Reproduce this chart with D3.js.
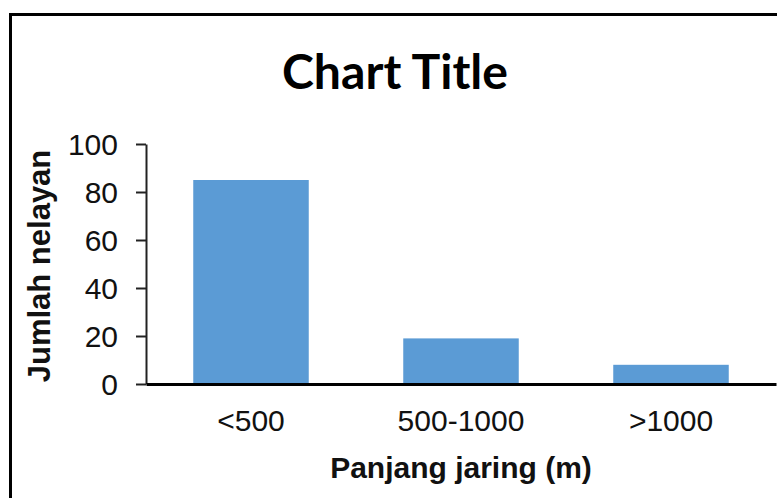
<!DOCTYPE html>
<html>
<head>
<meta charset="utf-8">
<script src="https://cdn.jsdelivr.net/npm/d3@7"></script>
<style>
  html, body { margin: 0; padding: 0; background: #fff; }
  svg { display: block; }
</style>
</head>
<body>
<svg id="chart" width="777" height="498"></svg>
<script>
// Fishers grouped by net length
const categories = ["<500", "500-1000", ">1000"];
const fishers = [85, 19, 8];
const yTicks = [0, 20, 40, 60, 80, 100];

const titleText = "Chart Title";
const xTitle = "Panjang jaring (m)";
const yTitle = "Jumlah nelayan";

const svg = d3.select("#chart");
const W = 777, H = 498;
const plot = { left: 146, right: 776, top: 144, bottom: 384 };

svg.append("rect").attr("width", W).attr("height", H).attr("fill", "#fff");

// chart frame
svg.append("rect")
  .attr("x", 10.5).attr("y", 14.5)
  .attr("width", 800).attr("height", 520)
  .attr("fill", "none").attr("stroke", "#000").attr("stroke-width", 3);

const x = d3.scaleBand()
  .domain(categories)
  .range([plot.left, plot.right])
  .paddingInner(0.45)
  .paddingOuter(0.225);

const y = d3.scaleLinear().domain([0, 100]).range([plot.bottom, plot.top]);

// bars
svg.append("g").selectAll("rect")
  .data(categories.map((c, i) => ({ c, v: fishers[i] })))
  .join("rect")
  .attr("x", d => x(d.c))
  .attr("y", d => y(d.v))
  .attr("width", x.bandwidth())
  .attr("height", d => y(0) - y(d.v))
  .attr("fill", "#5b9bd5");

// y axis
const yAxis = svg.append("g")
  .attr("transform", `translate(${plot.left},0)`)
  .call(d3.axisLeft(y).tickValues(yTicks).tickSize(10).tickPadding(18).tickSizeOuter(0));
yAxis.select(".domain").attr("stroke", "#222").attr("stroke-width", 2);
yAxis.selectAll(".tick line").attr("stroke", "#222").attr("stroke-width", 2);
yAxis.selectAll(".tick text")
  .attr("font-family", "'Liberation Sans', Arial, sans-serif")
  .attr("font-size", 30).attr("fill", "#111").attr("dy", "0.36em");

// x axis
const xAxis = svg.append("g")
  .attr("transform", `translate(0,${plot.bottom})`)
  .call(d3.axisBottom(x).tickSize(0).tickPadding(26));
xAxis.select(".domain").attr("stroke", "#000").attr("stroke-width", 3);
xAxis.selectAll(".tick text")
  .attr("font-family", "'Liberation Sans', Arial, sans-serif")
  .attr("font-size", 30).attr("fill", "#111");

// titles
svg.append("text")
  .attr("x", 395).attr("y", 89)
  .attr("text-anchor", "middle")
  .attr("font-family", "Lato, 'Open Sans', sans-serif")
  .attr("font-weight", "bold")
  .attr("font-size", 47)
  .attr("textLength", 226).attr("lengthAdjust", "spacingAndGlyphs")
  .attr("fill", "#000")
  .text(titleText);

svg.append("text")
  .attr("x", (plot.left + plot.right) / 2).attr("y", 478)
  .attr("text-anchor", "middle")
  .attr("font-family", "'Liberation Sans', Arial, sans-serif")
  .attr("font-weight", "bold").attr("font-size", 30)
  .attr("fill", "#111")
  .text(xTitle);

svg.append("text")
  .attr("transform", `translate(50,${(plot.top + plot.bottom) / 2 + 2}) rotate(-90)`)
  .attr("text-anchor", "middle")
  .attr("font-family", "'Liberation Sans', Arial, sans-serif")
  .attr("font-weight", "bold").attr("font-size", 31)
  .attr("fill", "#111")
  .text(yTitle);
</script>
</body>
</html>
